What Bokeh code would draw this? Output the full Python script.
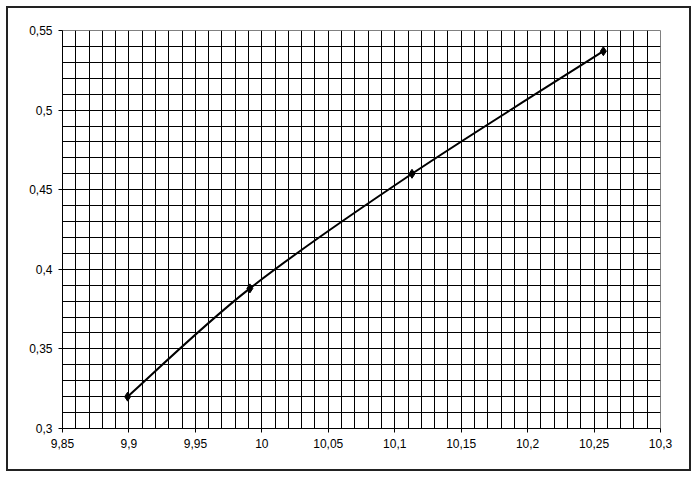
from bokeh.plotting import figure
from bokeh.layouts import column
from bokeh.models import FixedTicker, SingleIntervalTicker, CustomJSTickFormatter, Range1d
from bokeh.embed import file_html
from bokeh.resources import INLINE

x_vals = [9.899, 9.991, 10.113, 10.257]
y_vals = [0.320, 0.388, 0.460, 0.537]
x_ticks = [9.85, 9.9, 9.95, 10.0, 10.05, 10.1, 10.15, 10.2, 10.25, 10.3]
y_ticks = [0.3, 0.35, 0.4, 0.45, 0.5, 0.55]

p = figure(width=681, height=461, output_backend="svg", toolbar_location=None,
           x_range=Range1d(9.85, 10.3), y_range=Range1d(0.3, 0.55),
           min_border_left=54, min_border_right=29, min_border_top=22, min_border_bottom=41)
p.background_fill_color = "white"
p.border_fill_color = "white"
p.outline_line_color = "#808080"
p.outline_line_width = 1

fmt = CustomJSTickFormatter(code="return parseFloat(tick.toFixed(2)).toString().replace('.', ',');")
for ax, ticks in ((p.xaxis[0], x_ticks), (p.yaxis[0], y_ticks)):
    ax.ticker = FixedTicker(ticks=ticks)
    ax.formatter = fmt
    ax.axis_line_color = "black"
    ax.major_tick_line_color = "black"
    ax.major_tick_out = 4
    ax.major_tick_in = 0
    ax.minor_tick_line_color = None
    ax.major_label_text_font = "Liberation Sans"
    ax.major_label_text_font_size = "12px"
    ax.major_label_text_color = "black"
    ax.major_label_standoff = 6

p.xgrid[0].ticker = SingleIntervalTicker(interval=0.01)
p.ygrid[0].ticker = SingleIntervalTicker(interval=0.01)
for g in (p.xgrid[0], p.ygrid[0]):
    g.grid_line_color = "black"
    g.grid_line_width = 1
    g.grid_line_alpha = 1

# smoothed connecting curve (Bezier segments through data points)
n = len(x_vals)
x0s, y0s, x1s, y1s, cx0, cy0, cx1, cy1 = [], [], [], [], [], [], [], []
for i in range(n - 1):
    pm = max(i - 1, 0)
    pp = min(i + 2, n - 1)
    x0s.append(x_vals[i]); y0s.append(y_vals[i])
    x1s.append(x_vals[i + 1]); y1s.append(y_vals[i + 1])
    cx0.append(x_vals[i] + (x_vals[i + 1] - x_vals[pm]) / 6)
    cy0.append(y_vals[i] + (y_vals[i + 1] - y_vals[pm]) / 6)
    cx1.append(x_vals[i + 1] - (x_vals[pp] - x_vals[i]) / 6)
    cy1.append(y_vals[i + 1] - (y_vals[pp] - y_vals[i]) / 6)
p.bezier(x0=x0s, y0=y0s, x1=x1s, y1=y1s, cx0=cx0, cy0=cy0, cx1=cx1, cy1=cy1,
         line_color="black", line_width=2)
p.scatter(x_vals, y_vals, marker="diamond", size=9, fill_color="black", line_color="black")

layout = column(p, styles={"margin": "6px", "border": "2px solid #222222"})

open("out.html", "w").write(file_html(layout, INLINE))
